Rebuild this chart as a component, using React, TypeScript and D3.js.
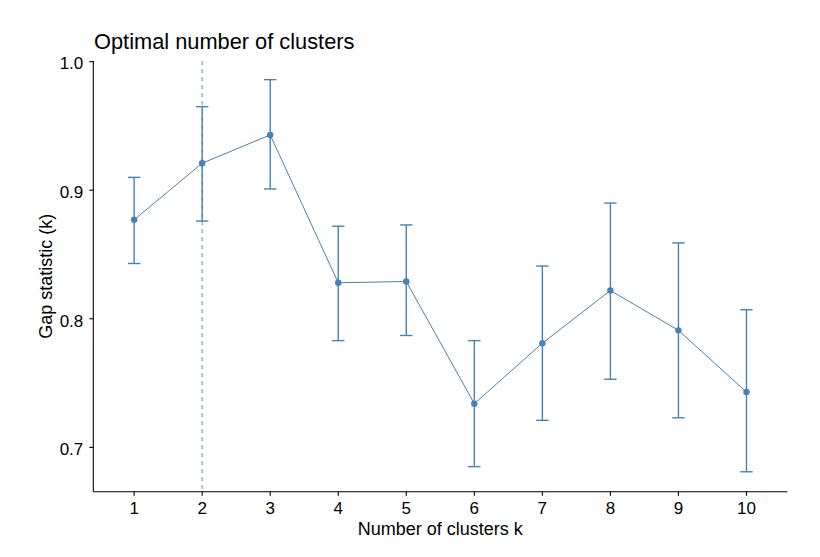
import React from "react";
import * as d3 from "d3";

// Gap statistic per number of clusters, with the lower / upper whisker ends
const clusters = [1, 2, 3, 4, 5, 6, 7, 8, 9, 10];
const gap = [0.877, 0.921, 0.943, 0.828, 0.829, 0.734, 0.781, 0.822, 0.791, 0.743];
const gapLow = [0.843, 0.876, 0.901, 0.783, 0.787, 0.685, 0.721, 0.753, 0.723, 0.681];
const gapHigh = [0.910, 0.965, 0.986, 0.872, 0.873, 0.783, 0.841, 0.890, 0.859, 0.807];
const yTicks = [0.7, 0.8, 0.9, 1.0];
const optimalK = 2;

const width = 820;
const height = 557;
const panel = { left: 93.3, right: 787.3, top: 61, bottom: 491.7 };
const color = "#4682B4";
const font = "'Liberation Sans', Arial, Helvetica, sans-serif";

const App = () => {
  const x = d3.scaleLinear().domain([0.4, 10.6]).range([panel.left, panel.right]);
  const y = d3.scaleLinear().domain([0.6655, 1.0005]).range([panel.bottom, panel.top]);

  const points = clusters.map((k, i) => ({ k, v: gap[i], lo: gapLow[i], hi: gapHigh[i] }));
  const line = d3
    .line<{ k: number; v: number }>()
    .x((d) => x(d.k))
    .y((d) => y(d.v));

  const cap = 6.2;

  return (
    <>
      <style>{`body{margin:0}`}</style>
      <svg width={width} height={height} style={{ display: "block", background: "#fff" }} fontFamily={font}>
        {/* title */}
        <text x={94} y={48.5} fontSize={21.8} fill="#000">
          Optimal number of clusters
        </text>

        {/* optimal k marker */}
        <line
          x1={x(optimalK)}
          x2={x(optimalK)}
          y1={panel.top}
          y2={panel.bottom}
          stroke={color}
          strokeWidth={1}
          strokeDasharray="4,4"
          opacity={0.85}
        />

        {/* error bars */}
        <g stroke={color} strokeWidth={1.4} fill="none">
          {points.map((d) => (
            <g key={d.k}>
              <line x1={x(d.k)} x2={x(d.k)} y1={y(d.lo)} y2={y(d.hi)} />
              <line x1={x(d.k) - cap} x2={x(d.k) + cap} y1={y(d.lo)} y2={y(d.lo)} />
              <line x1={x(d.k) - cap} x2={x(d.k) + cap} y1={y(d.hi)} y2={y(d.hi)} />
            </g>
          ))}
        </g>

        {/* gap curve */}
        <path d={line(points) ?? ""} stroke={color} strokeWidth={1} fill="none" />
        {points.map((d) => (
          <circle key={d.k} cx={x(d.k)} cy={y(d.v)} r={3.2} fill={color} />
        ))}

        {/* axes */}
        <g stroke="#000" strokeWidth={1.1}>
          <line x1={panel.left} x2={panel.left} y1={panel.top} y2={panel.bottom} />
          <line x1={panel.left} x2={panel.right} y1={panel.bottom} y2={panel.bottom} />
          {yTicks.map((t) => (
            <line key={t} x1={panel.left - 4} x2={panel.left} y1={y(t)} y2={y(t)} />
          ))}
          {clusters.map((k) => (
            <line key={k} x1={x(k)} x2={x(k)} y1={panel.bottom} y2={panel.bottom + 4} />
          ))}
        </g>

        <g fontSize={17} fill="#000">
          {yTicks.map((t) => (
            <text key={t} x={panel.left - 10} y={y(t) + 7.8} textAnchor="end">
              {d3.format(".1f")(t)}
            </text>
          ))}
          {clusters.map((k) => (
            <text key={k} x={x(k)} y={514} textAnchor="middle">
              {k}
            </text>
          ))}
        </g>

        {/* axis titles */}
        <text
          x={(panel.left + panel.right) / 2}
          y={535}
          textAnchor="middle"
          fontSize={18}
          fill="#000"
        >
          Number of clusters k
        </text>
        <text
          transform={`translate(52,${(panel.top + panel.bottom) / 2}) rotate(-90)`}
          textAnchor="middle"
          fontSize={18}
          fill="#000"
        >
          Gap statistic (k)
        </text>
      </svg>
    </>
  );
};

export default App;
